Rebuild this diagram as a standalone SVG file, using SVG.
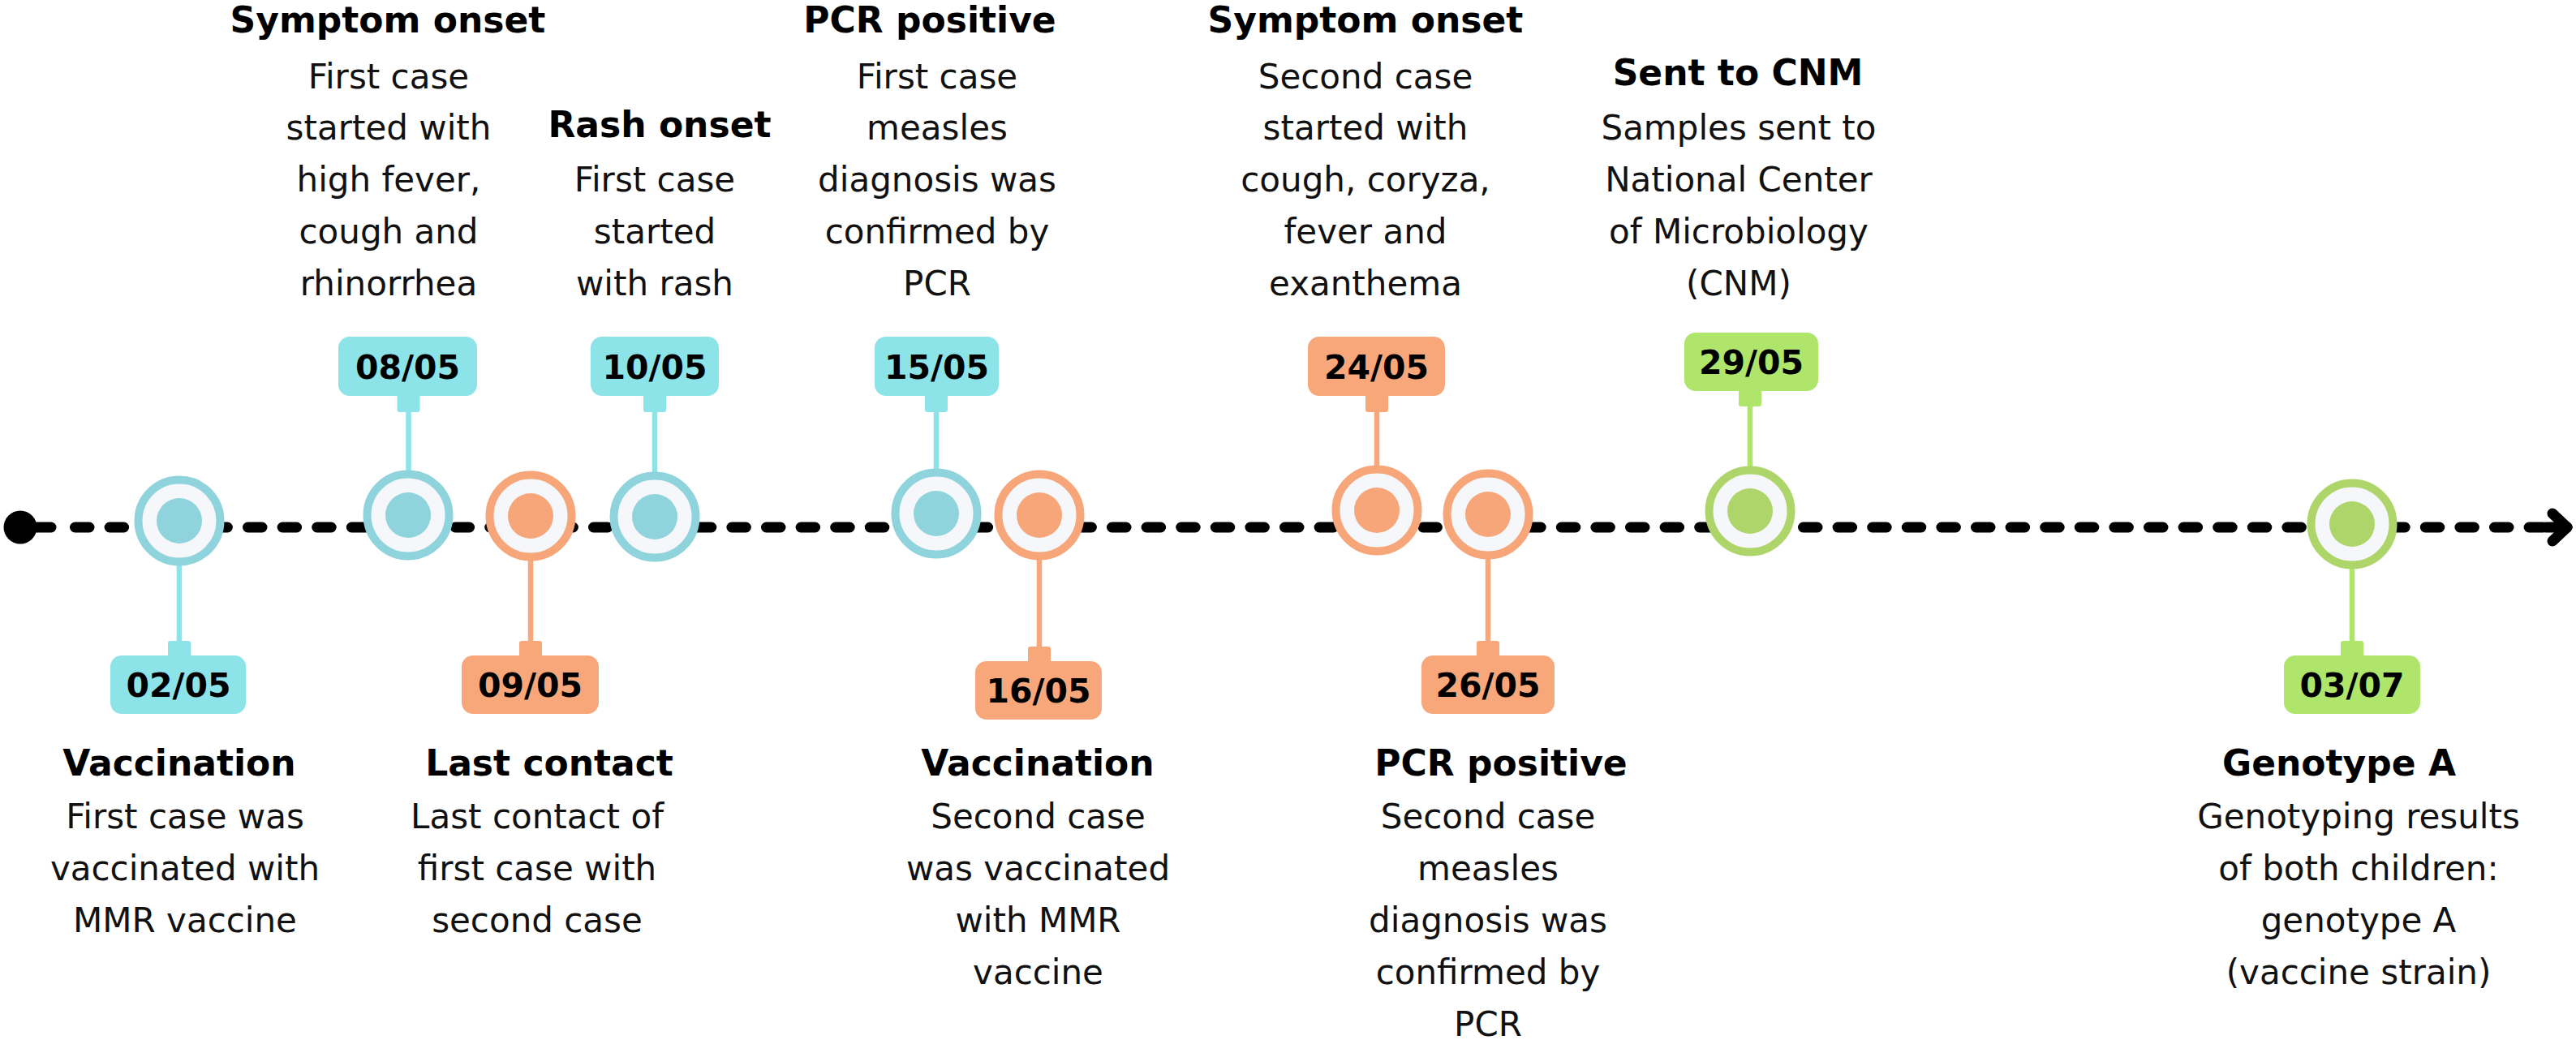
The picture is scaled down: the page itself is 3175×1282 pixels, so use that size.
<svg xmlns="http://www.w3.org/2000/svg" width="3175" height="1282" viewBox="0 0 3175 1282">
<style>
.title{font-family:"DejaVu Sans","Liberation Sans",sans-serif;font-weight:bold;font-size:44px;fill:#000;text-anchor:middle}
.body{font-family:"DejaVu Sans","Liberation Sans",sans-serif;font-size:42px;fill:#111;text-anchor:middle}
.date{font-family:"DejaVu Sans","Liberation Sans",sans-serif;font-weight:bold;font-size:41px;fill:#000;text-anchor:middle}
.ring{fill:#F5F7FB;stroke-width:10}
.teal .ring{stroke:#8FD3DC}.teal .dot{fill:#8FD3DC}.teal .box{fill:#8CE3E8}
.orange .ring{stroke:#F7A67A}.orange .dot{fill:#F7A67A}.orange .box{fill:#F8A77B}
.green .ring{stroke:#AED56A}.green .dot{fill:#AED56A}.green .box{fill:#AFE56A}
.stem{stroke-width:6.5;fill:none}
.st-teal{stroke:#8CE3E8}.st-orange{stroke:#F8A77B}.st-green{stroke:#AFE56A}
.axis{stroke:#000;stroke-width:13;stroke-linecap:round;fill:none}
</style>
<rect width="3175" height="1282" fill="#fff"/>
<g id="connectors">
  <circle cx="25" cy="650" r="20.5" fill="#000"/>
  <path class="axis" d="M25 650 H63"/>
  <path class="axis" d="M92.5 650 H3164" stroke-dasharray="17.5 25.1"/>
  <path class="axis" d="M3138 650 H3164"/>
  <polyline class="axis" points="3146,633 3164,650 3146,667" stroke-linejoin="round"/>
  <path class="stem st-teal" d="M221 697 V795"/>
  <path class="stem st-teal" d="M503.5 505 V581"/>
  <path class="stem st-orange" d="M654 691 V795"/>
  <path class="stem st-teal" d="M807 505 V583"/>
  <path class="stem st-teal" d="M1154 505 V579"/>
  <path class="stem st-orange" d="M1281 690 V802"/>
  <path class="stem st-orange" d="M1697 505 V575"/>
  <path class="stem st-orange" d="M1834 689 V795"/>
  <path class="stem st-green" d="M2157 498 V576"/>
  <path class="stem st-green" d="M2899 701 V795"/>
</g>
<g id="n0205" class="teal">
  <circle class="ring" cx="221" cy="642" r="50.5"/>
  <circle class="dot" cx="221" cy="642" r="28"/>
  <rect class="box" x="207" y="790" width="28" height="24" rx="3"/>
  <rect class="box" x="136" y="808" width="167" height="72" rx="14"/>
  <text class="date" x="220" y="859">02/05</text>
  <text class="title" x="221" y="956">Vaccination</text>
  <text class="body" x="228"><tspan x="228" y="1020.5">First case was</tspan><tspan x="228" y="1084.5">vaccinated with</tspan><tspan x="228" y="1149">MMR vaccine</tspan></text>
</g>
<g id="n0805" class="teal">
  <circle class="ring" cx="503" cy="635" r="50.5"/>
  <circle class="dot" cx="503" cy="635" r="28"/>
  <rect class="box" x="489.5" y="483" width="28" height="25" rx="3"/>
  <rect class="box" x="417" y="415" width="171" height="73" rx="14"/>
  <text class="date" x="502.5" y="466.5">08/05</text>
  <text class="title" x="478" y="40">Symptom onset</text>
  <text class="body"><tspan x="479" y="108.5">First case</tspan><tspan x="479" y="172">started with</tspan><tspan x="479" y="236">high fever,</tspan><tspan x="479" y="300">cough and</tspan><tspan x="479" y="364">rhinorrhea</tspan></text>
</g>
<g id="n0905" class="orange">
  <circle class="ring" cx="654" cy="636" r="50.5"/>
  <circle class="dot" cx="654" cy="636" r="28"/>
  <rect class="box" x="640" y="790" width="28" height="24" rx="3"/>
  <rect class="box" x="569" y="808" width="169" height="72" rx="14"/>
  <text class="date" x="653.5" y="859">09/05</text>
  <text class="title" x="677" y="956">Last contact</text>
  <text class="body"><tspan x="662" y="1020.5">Last contact of</tspan><tspan x="662" y="1084.5">first case with</tspan><tspan x="662" y="1149">second case</tspan></text>
</g>
<g id="n1005" class="teal">
  <circle class="ring" cx="807" cy="637" r="50.5"/>
  <circle class="dot" cx="807" cy="637" r="28"/>
  <rect class="box" x="793" y="483" width="28" height="25" rx="3"/>
  <rect class="box" x="728" y="415" width="158" height="73" rx="14"/>
  <text class="date" x="807" y="466.5">10/05</text>
  <text class="title" x="813" y="169">Rash onset</text>
  <text class="body"><tspan x="807" y="236">First case</tspan><tspan x="807" y="300">started</tspan><tspan x="807" y="364">with rash</tspan></text>
</g>
<g id="n1505" class="teal">
  <circle class="ring" cx="1154" cy="633" r="50.5"/>
  <circle class="dot" cx="1154" cy="633" r="28"/>
  <rect class="box" x="1140" y="483" width="28" height="25" rx="3"/>
  <rect class="box" x="1078" y="415" width="153" height="73" rx="14"/>
  <text class="date" x="1154.5" y="466.5">15/05</text>
  <text class="title" x="1146" y="40">PCR positive</text>
  <text class="body"><tspan x="1155" y="108.5">First case</tspan><tspan x="1155" y="172">measles</tspan><tspan x="1155" y="236">diagnosis was</tspan><tspan x="1155" y="300">confirmed by</tspan><tspan x="1155" y="364">PCR</tspan></text>
</g>
<g id="n1605" class="orange">
  <circle class="ring" cx="1281" cy="635" r="50.5"/>
  <circle class="dot" cx="1281" cy="635" r="28"/>
  <rect class="box" x="1267" y="797" width="28" height="24" rx="3"/>
  <rect class="box" x="1202" y="815" width="156" height="72" rx="14"/>
  <text class="date" x="1280" y="866">16/05</text>
  <text class="title" x="1279" y="956">Vaccination</text>
  <text class="body"><tspan x="1279.5" y="1020.5">Second case</tspan><tspan x="1279.5" y="1084.5">was vaccinated</tspan><tspan x="1279.5" y="1149">with MMR</tspan><tspan x="1279.5" y="1213">vaccine</tspan></text>
</g>
<g id="n2405" class="orange">
  <circle class="ring" cx="1697" cy="629" r="50.5"/>
  <circle class="dot" cx="1697" cy="629" r="28"/>
  <rect class="box" x="1683" y="483" width="28" height="25" rx="3"/>
  <rect class="box" x="1612" y="415" width="169" height="73" rx="14"/>
  <text class="date" x="1696.5" y="466.5">24/05</text>
  <text class="title" x="1683" y="40">Symptom onset</text>
  <text class="body"><tspan x="1683" y="108.5">Second case</tspan><tspan x="1683" y="172">started with</tspan><tspan x="1683" y="236">cough, coryza,</tspan><tspan x="1683" y="300">fever and</tspan><tspan x="1683" y="364">exanthema</tspan></text>
</g>
<g id="n2605" class="orange">
  <circle class="ring" cx="1834" cy="634" r="50.5"/>
  <circle class="dot" cx="1834" cy="634" r="28"/>
  <rect class="box" x="1820" y="790" width="28" height="24" rx="3"/>
  <rect class="box" x="1752" y="808" width="164" height="72" rx="14"/>
  <text class="date" x="1834" y="859">26/05</text>
  <text class="title" x="1850" y="956">PCR positive</text>
  <text class="body"><tspan x="1834" y="1020.5">Second case</tspan><tspan x="1834" y="1084.5">measles</tspan><tspan x="1834" y="1149">diagnosis was</tspan><tspan x="1834" y="1213">confirmed by</tspan><tspan x="1834" y="1277">PCR</tspan></text>
</g>
<g id="n2905" class="green">
  <circle class="ring" cx="2157" cy="630" r="50.5"/>
  <circle class="dot" cx="2157" cy="630" r="28"/>
  <rect class="box" x="2143" y="476" width="28" height="25" rx="3"/>
  <rect class="box" x="2076" y="410" width="165" height="72" rx="14"/>
  <text class="date" x="2158.5" y="461">29/05</text>
  <text class="title" x="2142" y="105">Sent to CNM</text>
  <text class="body"><tspan x="2143" y="172">Samples sent to</tspan><tspan x="2143" y="236">National Center</tspan><tspan x="2143" y="300">of Microbiology</tspan><tspan x="2143" y="364">(CNM)</tspan></text>
</g>
<g id="n0307" class="green">
  <circle class="ring" cx="2899" cy="646" r="50.5"/>
  <circle class="dot" cx="2899" cy="646" r="28"/>
  <rect class="box" x="2885" y="790" width="28" height="24" rx="3"/>
  <rect class="box" x="2815" y="808" width="168" height="72" rx="14"/>
  <text class="date" x="2899" y="859">03/07</text>
  <text class="title" x="2883" y="956">Genotype A</text>
  <text class="body"><tspan x="2907" y="1020.5">Genotyping results</tspan><tspan x="2907" y="1084.5">of both children:</tspan><tspan x="2907" y="1149">genotype A</tspan><tspan x="2907" y="1213">(vaccine strain)</tspan></text>
</g>
</svg>
